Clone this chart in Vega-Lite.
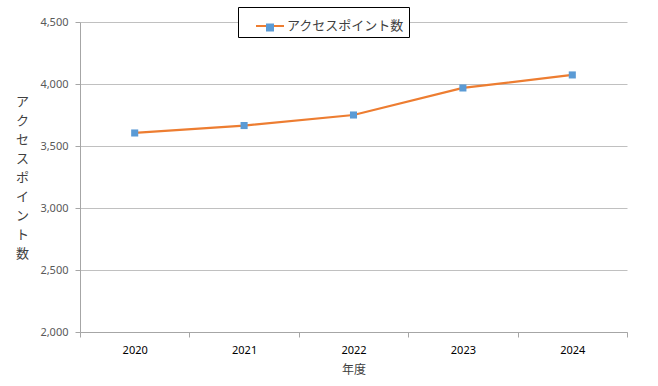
{
  "$schema": "https://vega.github.io/schema/vega-lite/v6.json",
  "width": 547,
  "height": 310,
  "autosize": {"type": "none"},
  "padding": {"left": 80, "top": 22, "right": 31, "bottom": 54},
  "background": "white",
  "config": {"view": {"stroke": null}, "font": "Noto Sans CJK JP"},
  "data": {
    "values": [
      {"year": "2020", "value": 3605, "series": "アクセスポイント数"},
      {"year": "2021", "value": 3665, "series": "アクセスポイント数"},
      {"year": "2022", "value": 3750, "series": "アクセスポイント数"},
      {"year": "2023", "value": 3968, "series": "アクセスポイント数"},
      {"year": "2024", "value": 4073, "series": "アクセスポイント数"}
    ]
  },
  "encoding": {
    "x": {
      "field": "year",
      "type": "ordinal",
      "scale": {"type": "band", "paddingInner": 0, "paddingOuter": 0},
      "axis": {
        "title": "年度",
        "labelAngle": 0,
        "tickBand": "extent",
        "grid": false,
        "domainColor": "#A6A6A6",
        "tickColor": "#A6A6A6",
        "tickSize": 5,
        "labelFont": "Noto Sans",
        "labelFontSize": 11,
        "labelColor": "#000000",
        "labelPadding": 7,
        "titleFont": "Noto Sans CJK JP",
        "titleFontSize": 12,
        "titleFontWeight": "normal",
        "titleColor": "#404040",
        "titlePadding": 9
      }
    },
    "y": {
      "field": "value",
      "type": "quantitative",
      "scale": {"domain": [2000, 4500], "nice": false, "zero": false},
      "axis": {
        "values": [2000, 2500, 3000, 3500, 4000, 4500],
        "format": ",.0f",
        "domainColor": "#A6A6A6",
        "tickColor": "#A6A6A6",
        "tickSize": 5,
        "gridColor": "#C0C0C0",
        "labelFont": "Noto Sans",
        "labelFontSize": 11,
        "labelColor": "#595959",
        "labelPadding": 7,
        "title": ["ア", "ク", "セ", "ス", "ポ", "イ", "ン", "ト", "数"],
        "titleAngle": 0,
        "titleX": -58,
        "titleY": 79,
        "titleAlign": "center",
        "titleBaseline": "middle",
        "titleFont": "Noto Sans CJK JP",
        "titleFontSize": 13,
        "titleFontWeight": "normal",
        "titleLineHeight": 19,
        "titleColor": "#404040"
      }
    }
  },
  "layer": [
    {
      "mark": {"type": "line", "strokeWidth": 2.25},
      "encoding": {
        "stroke": {
          "field": "series",
          "type": "nominal",
          "scale": {"range": ["#ED7D31"]},
          "legend": {
            "orient": "none",
            "legendX": 158,
            "legendY": -15,
            "title": null,
            "strokeColor": "#000000",
            "fillColor": "#ffffff",
            "padding": 4,
            "symbolType": "stroke",
            "symbolSize": 784,
            "symbolStrokeWidth": 2,
            "symbolOffset": 13,
            "labelOffset": 2,
            "labelExpr": "datum.label + '\u3000'",
            "labelFont": "Noto Sans CJK JP",
            "labelFontSize": 13,
            "labelColor": "#404040",
            "zindex": 1
          }
        }
      }
    },
    {
      "mark": {"type": "point", "shape": "square", "filled": true, "size": 50, "opacity": 1},
      "encoding": {
        "fill": {
          "field": "series",
          "type": "nominal",
          "scale": {"range": ["#5B9BD5"]},
          "legend": {
            "orient": "none",
            "legendX": 186,
            "legendY": 1.5,
            "title": null,
            "padding": 0,
            "symbolType": "square",
            "symbolSize": 64,
            "symbolStrokeWidth": 0,
            "symbolOpacity": 1,
            "labelExpr": "''",
            "labelFontSize": 1,
            "zindex": 2
          }
        }
      }
    }
  ]
}
